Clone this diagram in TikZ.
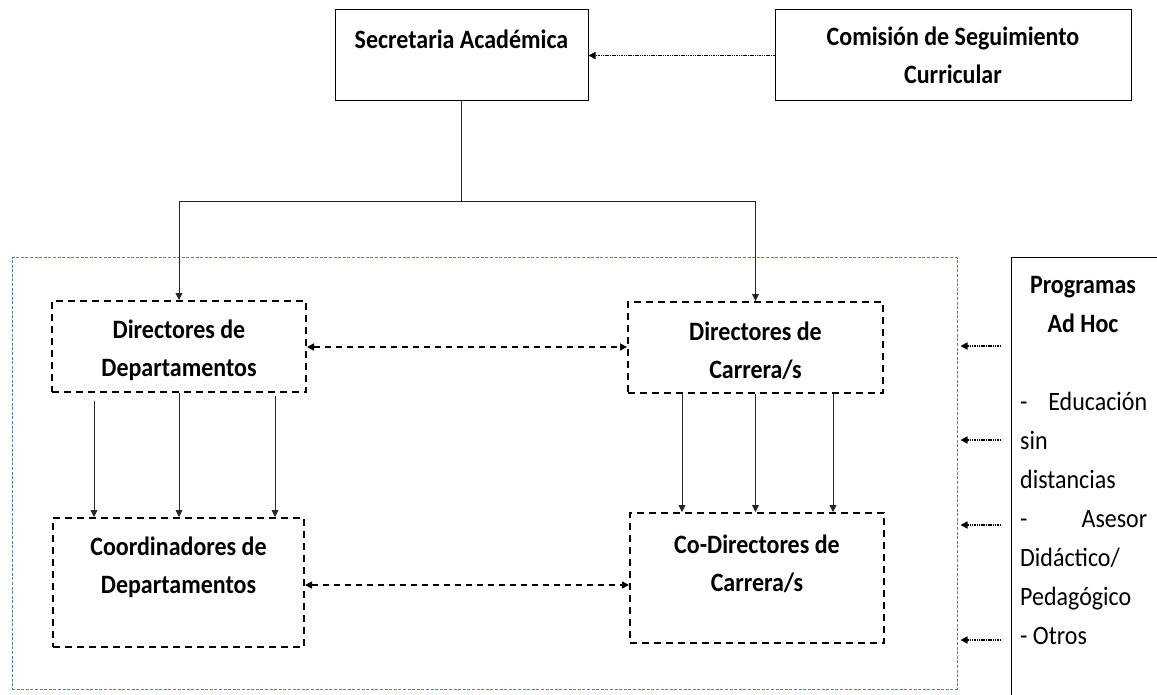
\documentclass[tikz,border=0pt]{standalone}
\usepackage{fontspec}
\setmainfont{Carlito}
\newfontfamily\tallfont[FakeStretch=0.905]{Carlito}
\usetikzlibrary{arrows.meta,calc}
\definecolor{frameblue}{RGB}{84,128,178}
\begin{document}
\begin{tikzpicture}[x=1pt,y=-1pt,
  solidbox/.style={draw=black, line width=1pt, inner sep=0pt},
  dashbox/.style={draw=black, line width=2pt, dash pattern=on 7pt off 5pt, inner sep=0pt},
  lbl/.style={font=\tallfont\fontsize{26.5}{38}\selectfont\bfseries, align=center, inner sep=0pt},
  tipend/.style={-{Triangle[length=7pt,width=7pt]}},
  conn/.style={draw=black!85, line width=0.9pt, tipend},
  plainline/.style={draw=black!85, line width=0.9pt},
  dasharrow/.style={draw=black, line width=1.6pt, dash pattern=on 6pt off 5pt,
     {Triangle[length=7pt,width=7pt]}-{Triangle[length=7pt,width=7pt]}},
  dotarrow/.style={draw=black, line width=1.5pt, dash pattern=on 1.5pt off 0.8pt,
     -{Triangle[length=7pt,width=7pt]}},
  bluebox/.style={draw=frameblue, line width=1pt, dash pattern=on 3pt off 1.6pt, inner sep=0pt}
]
\useasboundingbox (0,0) rectangle (1157,695);

% outer frame
\node[bluebox, minimum width=945, minimum height=431] (org) at (484.5,473.5) {};

% top boxes
\node[solidbox, minimum width=253, minimum height=91] (sec) at (461.5,55.5) {};
\node[lbl] (sect) at (461.5,39) {Secretaria Académica};
\node[solidbox, minimum width=356, minimum height=91] (com) at (953,55.5) {};
\node[lbl] (comt) at (953,55) {Comisión de Seguimiento\\Curricular};

% inner dashed boxes
\node[dashbox, minimum width=254, minimum height=91] (dd) at (179,346.5) {};
\node[lbl] (ddt) at (179,350.5) {Directores de\\Departamentos};
\node[dashbox, minimum width=255, minimum height=91] (dc) at (755.5,347.5) {};
\node[lbl] (dct) at (755.5,351) {Directores de\\Carrera/s};
\node[dashbox, minimum width=251, minimum height=129] (co) at (178.5,582.5) {};
\node[lbl] (cot) at (178.5,567) {Coordinadores de\\Departamentos};
\node[dashbox, minimum width=254, minimum height=130] (cd) at (757,578) {};
\node[lbl] (cdt) at (757,563.5) {Co-Directores de\\Carrera/s};

% Programas Ad Hoc box (partly outside the page)
\node[minimum width=146, minimum height=437, inner sep=0pt, anchor=north west] (prog) at (1011,258) {};
\draw[line width=1pt] (prog.north east) -- (prog.north west) -- (prog.south west);
\node[lbl, font=\tallfont\fontsize{26.5}{39}\selectfont\bfseries] (progh) at (1083,305) {Programas\\Ad Hoc};
\node[inner sep=0pt, text width=127pt, align=flush left, font=\tallfont\fontsize{26.5}{39}\selectfont, anchor=west] (progl) at (1020,518)
  {-\hfill Educación\\sin\\distancias\\-\hfill Asesor\\Didáctico/\\Pedagógico\\- Otros};

% connectors from the top
\coordinate (j) at (sec.south |- 0,201);
\draw[plainline] (sec.south) -- (j);
\draw[conn] (j) -| (dd.north);
\draw[conn] (j) -| (dc.north);
\draw[dotarrow] (com.west) -- (sec.east);

% horizontal dashed links
\draw[dasharrow] (dd.east |- 0,347) -- (dc.west |- 0,347);
\draw[dasharrow] (co.east |- 0,585) -- (cd.west |- 0,585);

% vertical arrows
\coordinate (a1) at ($(dd.south west)+(43,8)$);
\coordinate (a2) at (dd.south);
\coordinate (a3) at ($(dd.south east)+(-32,3)$);
\draw[conn] (a1) -- (a1 |- co.north);
\draw[conn] (a2) -- (a2 |- co.north);
\draw[conn] (a3) -- (a3 |- co.north);
\coordinate (b1) at ($(dc.south west)+(55,0)$);
\coordinate (b2) at (dc.south);
\coordinate (b3) at ($(dc.south east)+(-51,0)$);
\draw[conn] (b1) -- (b1 |- cd.north);
\draw[conn] (b2) -- (b2 |- cd.north);
\draw[conn] (b3) -- (b3 |- cd.north);

% dotted arrows from Programas to the frame
\foreach \yy in {346,440,525,640}{
  \draw[dotarrow, shorten <=10pt, shorten >=3pt] (prog.west |- 0,\yy) -- (org.east |- 0,\yy);
}
\end{tikzpicture}
\end{document}
